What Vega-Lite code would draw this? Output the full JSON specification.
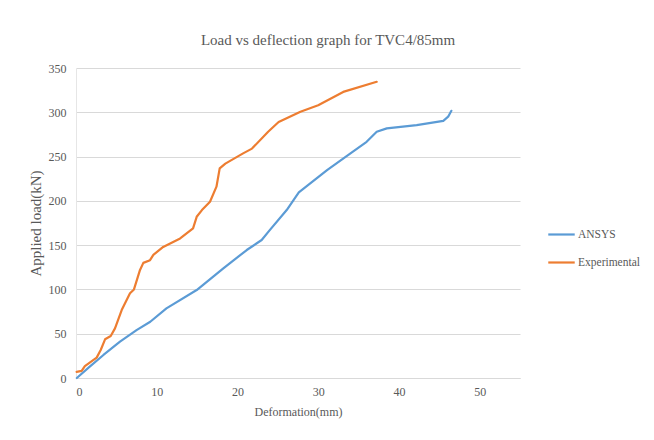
{
  "$schema": "https://vega.github.io/schema/vega-lite/v6.json",
  "width": 444,
  "height": 310,
  "autosize": {"type": "none"},
  "padding": {"left": 76, "top": 68, "right": 134, "bottom": 62},
  "background": "white",
  "title": {
    "text": "Load  vs deflection graph for TVC4/85mm",
    "font": "Liberation Serif",
    "fontSize": 15,
    "fontWeight": "normal",
    "color": "#595959",
    "anchor": "middle",
    "dx": 30,
    "offset": 14
  },
  "config": {
    "view": {"stroke": null},
    "font": "Liberation Serif"
  },
  "data": {
    "values": [
      {"series": "ANSYS", "order": 1, "x": 0.1, "y": 0},
      {"series": "ANSYS", "order": 2, "x": 1.7, "y": 12.8},
      {"series": "ANSYS", "order": 3, "x": 3.4, "y": 26},
      {"series": "ANSYS", "order": 4, "x": 5.45, "y": 41},
      {"series": "ANSYS", "order": 5, "x": 7.5, "y": 54},
      {"series": "ANSYS", "order": 6, "x": 9.2, "y": 63.5},
      {"series": "ANSYS", "order": 7, "x": 11.2, "y": 78.6},
      {"series": "ANSYS", "order": 8, "x": 14.95, "y": 99.3},
      {"series": "ANSYS", "order": 9, "x": 18.25, "y": 123.8},
      {"series": "ANSYS", "order": 10, "x": 21.15, "y": 144.5},
      {"series": "ANSYS", "order": 11, "x": 23.0, "y": 155.8},
      {"series": "ANSYS", "order": 12, "x": 24.0, "y": 167},
      {"series": "ANSYS", "order": 13, "x": 26.1, "y": 189.6},
      {"series": "ANSYS", "order": 14, "x": 27.6, "y": 209.5},
      {"series": "ANSYS", "order": 15, "x": 31.1, "y": 234.8},
      {"series": "ANSYS", "order": 16, "x": 34.0, "y": 253.6},
      {"series": "ANSYS", "order": 17, "x": 36.0, "y": 266.7},
      {"series": "ANSYS", "order": 18, "x": 37.25, "y": 278},
      {"series": "ANSYS", "order": 19, "x": 38.5, "y": 281.8},
      {"series": "ANSYS", "order": 20, "x": 42.2, "y": 285.6},
      {"series": "ANSYS", "order": 21, "x": 45.5, "y": 290.4},
      {"series": "ANSYS", "order": 22, "x": 46.1, "y": 295},
      {"series": "ANSYS", "order": 23, "x": 46.5, "y": 301.7},
      {"series": "Experimental", "order": 1, "x": 0.08, "y": 7},
      {"series": "Experimental", "order": 2, "x": 0.7, "y": 8},
      {"series": "Experimental", "order": 3, "x": 1.1, "y": 13.5},
      {"series": "Experimental", "order": 4, "x": 2.56, "y": 23},
      {"series": "Experimental", "order": 5, "x": 3.06, "y": 31.6},
      {"series": "Experimental", "order": 6, "x": 3.6, "y": 43.7},
      {"series": "Experimental", "order": 7, "x": 4.3, "y": 47.4},
      {"series": "Experimental", "order": 8, "x": 4.83, "y": 56},
      {"series": "Experimental", "order": 9, "x": 5.66, "y": 76.7},
      {"series": "Experimental", "order": 10, "x": 6.69, "y": 95.6},
      {"series": "Experimental", "order": 11, "x": 7.18, "y": 100},
      {"series": "Experimental", "order": 12, "x": 7.93, "y": 122},
      {"series": "Experimental", "order": 13, "x": 8.34, "y": 130},
      {"series": "Experimental", "order": 14, "x": 9.17, "y": 133},
      {"series": "Experimental", "order": 15, "x": 9.58, "y": 139},
      {"series": "Experimental", "order": 16, "x": 10.8, "y": 148},
      {"series": "Experimental", "order": 17, "x": 12.9, "y": 157.6},
      {"series": "Experimental", "order": 18, "x": 14.5, "y": 169},
      {"series": "Experimental", "order": 19, "x": 14.95, "y": 182},
      {"series": "Experimental", "order": 20, "x": 15.6, "y": 189.6},
      {"series": "Experimental", "order": 21, "x": 16.6, "y": 199},
      {"series": "Experimental", "order": 22, "x": 17.4, "y": 216},
      {"series": "Experimental", "order": 23, "x": 17.8, "y": 236.7},
      {"series": "Experimental", "order": 24, "x": 18.5, "y": 242},
      {"series": "Experimental", "order": 25, "x": 20.7, "y": 253.6},
      {"series": "Experimental", "order": 26, "x": 21.8, "y": 259},
      {"series": "Experimental", "order": 27, "x": 23.8, "y": 278},
      {"series": "Experimental", "order": 28, "x": 25.1, "y": 289},
      {"series": "Experimental", "order": 29, "x": 27.8, "y": 300.6},
      {"series": "Experimental", "order": 30, "x": 30.0, "y": 308},
      {"series": "Experimental", "order": 31, "x": 33.1, "y": 323},
      {"series": "Experimental", "order": 32, "x": 37.25, "y": 334.4}
    ]
  },
  "mark": {"type": "line", "strokeWidth": 2.2, "interpolate": "linear", "strokeJoin": "round", "strokeCap": "round"},
  "encoding": {
    "x": {
      "field": "x",
      "type": "quantitative",
      "scale": {"domain": [0, 55], "nice": false},
      "axis": {
        "title": "Deformation(mm)",
        "values": [0, 10, 20, 30, 40, 50],
        "grid": false,
        "ticks": false,
        "domainColor": "#d9d9d9",
        "labelFont": "Liberation Serif",
        "labelFontSize": 12,
        "labelColor": "#595959",
        "labelPadding": 8,
        "titleFont": "Liberation Serif",
        "titleFontSize": 12,
        "titleFontWeight": "normal",
        "titleColor": "#595959",
        "titlePadding": 9
      }
    },
    "y": {
      "field": "y",
      "type": "quantitative",
      "scale": {"domain": [0, 350], "nice": false},
      "axis": {
        "title": "Applied load(kN)",
        "values": [0, 50, 100, 150, 200, 250, 300, 350],
        "gridColor": "#d9d9d9",
        "ticks": false,
        "domainColor": "#e6e6e6",
        "labelFont": "Liberation Serif",
        "labelFontSize": 12,
        "labelColor": "#595959",
        "labelPadding": 10,
        "titleFont": "Liberation Serif",
        "titleFontSize": 15,
        "titleFontWeight": "normal",
        "titleColor": "#595959",
        "titlePadding": 5
      }
    },
    "color": {
      "field": "series",
      "type": "nominal",
      "scale": {"domain": ["ANSYS", "Experimental"], "range": ["#5B9BD5", "#ED7D31"]},
      "legend": {
        "title": null,
        "orient": "none",
        "legendX": 471,
        "legendY": 152,
        "symbolType": "stroke",
        "symbolSize": 700,
        "symbolStrokeWidth": 2.2,
        "labelFont": "Liberation Serif",
        "labelFontSize": 11.5,
        "labelColor": "#595959",
        "labelOffset": 2,
        "rowPadding": 8
      }
    },
    "order": {"field": "order", "type": "quantitative"}
  }
}
